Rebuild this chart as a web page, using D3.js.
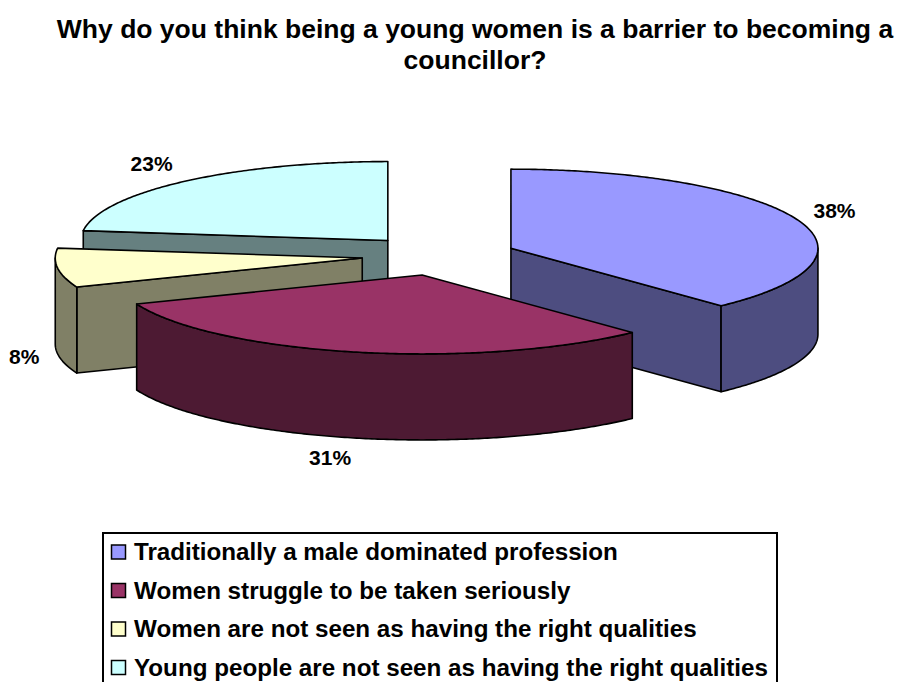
<!DOCTYPE html>
<html>
<head>
<meta charset="utf-8">
<script src="https://cdn.jsdelivr.net/npm/d3@7"></script>
<style>
  body { margin: 0; background: #fff; }
  svg { display: block; }
  text { font-family: Arial, "Liberation Sans", sans-serif; font-weight: bold; fill: #000; }
</style>
</head>
<body>
<svg id="chart" width="899" height="682"></svg>
<script>
// ---- data ----
const categories = [
  "Traditionally a male dominated profession",
  "Women struggle to be taken seriously",
  "Women are not seen as having the right qualities",
  "Young people are not seen as having the right qualities"
];
const values = [38, 31, 8, 23];
const valueLabels = ["38%", "31%", "8%", "23%"];
const titleLines = [
  "Why do you think being a young women is a barrier to becoming a",
  "councillor?"
];

// ---- styles ----
const topColor = d3.scaleOrdinal(categories, ["#9999FF", "#993366", "#FFFFCC", "#CCFFFF"]);
const sideColor = d3.scaleOrdinal(categories, ["#4D4D80", "#4D1A33", "#808066", "#668080"]);

const svg = d3.select("#chart");

// ---- title ----
svg.append("g")
  .selectAll("text")
  .data(titleLines)
  .join("text")
  .attr("x", 475)
  .attr("y", (d, i) => 38 + i * 30.5)
  .attr("text-anchor", "middle")
  .style("font-size", "26.5px")
  .text(d => d);

// ---- 3D exploded pie ----
const cx = 439, cy = 255.5;   // centre of the unexploded pie's top face
const rx = 307, ry = 79;      // radii of the top ellipse
const depth = 86;             // thickness of the pie
const explode = 0.252;        // slice offset as a fraction of the radius

const pie = d3.pie().sort(null).value(d => d).startAngle(0).endAngle(2 * Math.PI);
const arcs = pie(values).map((a, i) => {
  const mid = (a.startAngle + a.endAngle) / 2;
  return {
    ...a, i, mid,
    key: categories[i],
    ox: cx + explode * rx * Math.sin(mid),
    oy: cy - explode * ry * Math.cos(mid)
  };
});

const pt = (s, t, dz = 0) => [s.ox + rx * Math.sin(t), s.oy - ry * Math.cos(t) + dz];
const arcPts = (s, t0, t1, dz) => {
  const n = Math.max(2, Math.ceil(Math.abs(t1 - t0) / 0.01));
  return d3.range(n + 1).map(k => pt(s, t0 + (t1 - t0) * k / n, dz));
};
const line = d3.line();

const pieG = svg.append("g")
  .attr("stroke", "#000")
  .attr("stroke-width", 1.6)
  .attr("stroke-linejoin", "round");

// paint slices back to front
const order = arcs.slice().sort((a, b) => a.oy - b.oy);
order.forEach(s => {
  const g = pieG.append("g");
  const c0 = [s.ox, s.oy], c1 = [s.ox, s.oy + depth];
  const a0 = s.startAngle, a1 = s.endAngle;

  // radial walls that face the viewer
  const walls = [];
  if (Math.sin(a0) < -1e-6) walls.push(a0);
  if (Math.sin(a1) > 1e-6) walls.push(a1);
  walls.forEach(t => {
    g.append("path")
      .attr("d", line([c0, pt(s, t), pt(s, t, depth), c1]) + "Z")
      .attr("fill", sideColor(s.key));
  });

  // outer curved wall on the front half
  const f0 = Math.max(a0, Math.PI / 2), f1 = Math.min(a1, 3 * Math.PI / 2);
  if (f1 > f0) {
    const pts = arcPts(s, f0, f1, 0).concat(arcPts(s, f1, f0, depth));
    g.append("path")
      .attr("d", line(pts) + "Z")
      .attr("fill", sideColor(s.key));
  }

  // top face
  g.append("path")
    .attr("d", line([c0].concat(arcPts(s, a0, a1, 0))) + "Z")
    .attr("fill", topColor(s.key));
});

// ---- value labels ----
const labelG = svg.append("g").style("font-size", "21px").attr("text-anchor", "middle");
arcs.forEach(s => {
  const sn = Math.sin(s.mid), cs = Math.cos(s.mid);
  const t = labelG.append("text").text(valueLabels[s.i]);
  const w = t.node().getComputedTextLength();
  const h = 24;
  const x = s.ox + 1.06 * rx * sn + Math.sign(sn) * w / 2;
  const y = s.oy - 1.1 * ry * cs + (cs < 0 ? depth : 0) - cs * h / 2 - (cs > 0 ? 4 * cs : 0);
  t.attr("x", x).attr("y", y + 7.5);
});

// ---- legend ----
const legend = svg.append("g");
legend.append("rect")
  .attr("x", 103).attr("y", 533)
  .attr("width", 674).attr("height", 170)
  .attr("fill", "#fff").attr("stroke", "#000").attr("stroke-width", 2);

const rowY = d3.scalePoint().domain(categories).range([560, 675.5]);
const items = legend.selectAll("g.item").data(categories).join("g").attr("class", "item");
items.append("rect")
  .attr("x", 111.5).attr("y", d => rowY(d) - 15)
  .attr("width", 14).attr("height", 14)
  .attr("fill", d => topColor(d))
  .attr("stroke", "#000").attr("stroke-width", 1.5);
items.append("text")
  .attr("x", 134).attr("y", d => rowY(d))
  .style("font-size", "24.2px")
  .text(d => d);
</script>
</body>
</html>
